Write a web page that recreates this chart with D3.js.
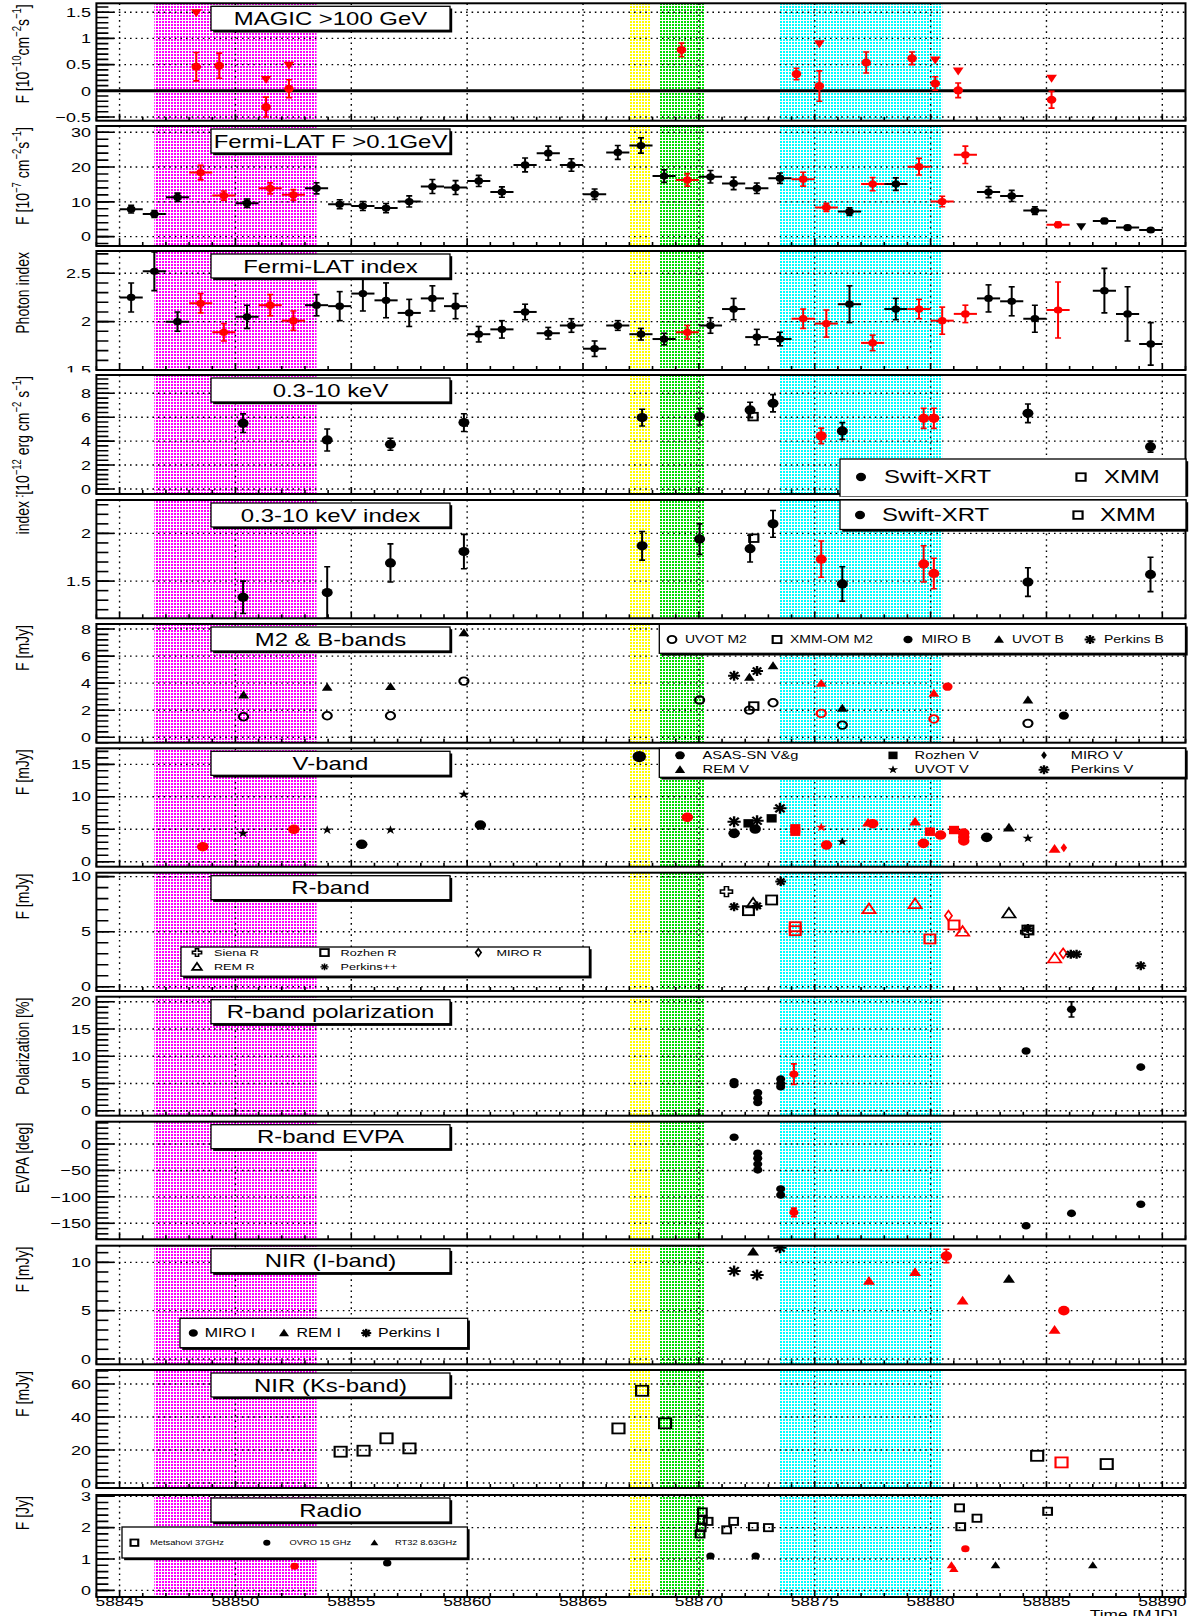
<!DOCTYPE html>
<html>
<head>
<meta charset="utf-8">
<script src="https://cdn.jsdelivr.net/npm/d3@7"></script>
<style>
  body { margin: 0; background: #fff; }
  svg { display: block; }
  text { font-family: "Liberation Sans", Arial, sans-serif; fill: #000; }
</style>
</head>
<body>
<div id="chart"></div>
<script>
// ---------------- data (MJD, value, error, simultaneous-with-MAGIC flag) ----------------
const bands = [[58846.5, 58853.5, "m"], [58867.0, 58867.9, "y"], [58868.3, 58870.25, "g"], [58873.5, 58880.5, "c"]];
const timeTicks = [58845, 58850, 58855, 58860, 58865, 58870, 58875, 58880, 58885, 58890];

const magicFlux = [
  [58848.31, 0.46, 0.27], [58849.30, 0.48, 0.24], [58851.32, -0.31, 0.19], [58852.31, 0.04, 0.17],
  [58869.25, 0.78, 0.13], [58874.21, 0.32, 0.11], [58875.20, 0.09, 0.29], [58877.22, 0.54, 0.20],
  [58879.20, 0.62, 0.12], [58880.20, 0.14, 0.13], [58881.19, 0.01, 0.14], [58885.22, -0.17, 0.16]
];
const magicUL = [[58848.31, 1.49], [58851.32, 0.22], [58852.31, 0.49], [58875.20, 0.90],
  [58880.20, 0.59], [58881.19, 0.38], [58885.22, 0.24]];

const fermiFlux = [
  [58845.5, 7.9, 1.1, 0], [58846.5, 6.5, 1.0, 0], [58847.5, 11.3, 1.2, 0], [58848.5, 18.4, 2.1, 1],
  [58849.5, 11.8, 1.3, 1], [58850.5, 9.6, 1.2, 0], [58851.5, 13.9, 1.6, 1], [58852.5, 12.0, 1.5, 1],
  [58853.5, 13.9, 1.6, 0], [58854.5, 9.3, 1.3, 0], [58855.5, 8.8, 1.3, 0], [58856.5, 8.2, 1.3, 0],
  [58857.5, 10.1, 1.6, 0], [58858.5, 14.4, 2.0, 0], [58859.5, 14.1, 2.0, 0], [58860.5, 16.0, 1.6, 0],
  [58861.5, 12.8, 1.5, 0], [58862.5, 20.6, 2.0, 0], [58863.5, 24.0, 2.0, 0], [58864.5, 20.6, 1.8, 0],
  [58865.5, 12.2, 1.5, 0], [58866.5, 24.2, 2.0, 0], [58867.5, 26.2, 2.2, 0], [58868.5, 17.4, 1.8, 0],
  [58869.5, 16.3, 1.8, 1], [58870.5, 17.2, 1.8, 0], [58871.5, 15.3, 1.8, 0], [58872.5, 13.9, 1.5, 0],
  [58873.5, 16.8, 1.5, 0], [58874.5, 16.5, 2.0, 1], [58875.5, 8.4, 1.2, 1], [58876.5, 7.2, 1.1, 0],
  [58877.5, 15.1, 1.9, 1], [58878.5, 15.1, 1.8, 0], [58879.5, 20.1, 2.4, 1], [58880.5, 10.1, 1.5, 1],
  [58881.5, 23.5, 2.5, 1], [58882.5, 12.8, 1.6, 0], [58883.5, 11.7, 1.6, 0], [58884.5, 7.5, 1.1, 0],
  [58885.5, 3.4, 0.8, 1], [58887.5, 4.5, 0.7, 0], [58888.5, 2.6, 0.6, 0], [58889.5, 1.9, 0.4, 0]
];
const fermiUL = [[58886.5, 2.9]];

const fermiIndex = [
  [58845.5, 2.25, 0.15, 0], [58846.5, 2.52, 0.20, 0], [58847.5, 2.00, 0.10, 0], [58848.5, 2.19, 0.10, 1],
  [58849.5, 1.89, 0.09, 1], [58850.5, 2.05, 0.12, 0], [58851.5, 2.17, 0.11, 1], [58852.5, 2.01, 0.10, 1],
  [58853.5, 2.17, 0.11, 0], [58854.5, 2.16, 0.15, 0], [58855.5, 2.29, 0.18, 0], [58856.5, 2.22, 0.18, 0],
  [58857.5, 2.09, 0.14, 0], [58858.5, 2.24, 0.13, 0], [58859.5, 2.16, 0.13, 0], [58860.5, 1.87, 0.08, 0],
  [58861.5, 1.92, 0.09, 0], [58862.5, 2.10, 0.08, 0], [58863.5, 1.88, 0.06, 0], [58864.5, 1.96, 0.07, 0],
  [58865.5, 1.72, 0.08, 0], [58866.5, 1.96, 0.05, 0], [58867.5, 1.87, 0.06, 0], [58868.5, 1.82, 0.06, 0],
  [58869.5, 1.89, 0.07, 1], [58870.5, 1.96, 0.08, 0], [58871.5, 2.13, 0.11, 0], [58872.5, 1.84, 0.08, 0],
  [58873.5, 1.82, 0.07, 0], [58874.5, 2.03, 0.10, 1], [58875.5, 1.98, 0.14, 1], [58876.5, 2.18, 0.19, 0],
  [58877.5, 1.78, 0.08, 1], [58878.5, 2.13, 0.11, 0], [58879.5, 2.13, 0.10, 1], [58880.5, 2.01, 0.14, 1],
  [58881.5, 2.08, 0.09, 1], [58882.5, 2.24, 0.14, 0], [58883.5, 2.21, 0.15, 0], [58884.5, 2.03, 0.14, 0],
  [58885.5, 2.12, 0.29, 1], [58887.5, 2.32, 0.23, 0], [58888.5, 2.08, 0.28, 0], [58889.5, 1.77, 0.22, 0]
];

const xrtFlux = [
  [58850.33, 5.50, 0.78, 0], [58853.96, 4.10, 0.92, 0], [58856.69, 3.74, 0.50, 0], [58859.86, 5.55, 0.74, 0],
  [58867.55, 5.97, 0.70, 0], [58870.03, 6.05, 0.70, 0], [58872.21, 6.61, 0.64, 0], [58873.20, 7.17, 0.72, 0],
  [58875.28, 4.44, 0.65, 1], [58876.19, 4.85, 0.70, 0], [58879.70, 5.91, 0.84, 1], [58880.14, 5.91, 0.84, 1],
  [58884.20, 6.33, 0.78, 0], [58889.49, 3.54, 0.46, 0]
];
const xmmFlux = [[58872.34, 6.05]];
const xrtIndex = [
  [58850.33, 1.33, 0.17, 0], [58853.96, 1.38, 0.27, 0], [58856.69, 1.69, 0.20, 0], [58859.86, 1.81, 0.18, 0],
  [58867.55, 1.87, 0.15, 0], [58870.03, 1.94, 0.16, 0], [58872.21, 1.84, 0.14, 0], [58873.20, 2.10, 0.14, 0],
  [58875.28, 1.73, 0.19, 1], [58876.19, 1.47, 0.18, 0], [58879.70, 1.68, 0.19, 1], [58880.14, 1.58, 0.16, 1],
  [58884.20, 1.49, 0.15, 0], [58889.49, 1.57, 0.18, 0]
];
const xmmIndex = [[58872.37, 1.95]];

const uvotM2 = [[58850.35, 1.52, 0], [58853.96, 1.59, 0], [58856.69, 1.59, 0], [58859.86, 4.15, 0],
  [58870.03, 2.75, 0], [58872.18, 2.01, 0], [58873.20, 2.55, 0], [58875.28, 1.77, 1], [58876.19, 0.90, 0],
  [58880.14, 1.35, 1], [58884.20, 1.03, 0]];
const xmmOmM2 = [[58872.37, 2.31, 0]];
const miroB = [[58880.73, 3.74, 1], [58885.75, 1.60, 0]];
const uvotB = [[58850.35, 3.12, 0], [58853.96, 3.69, 0], [58856.69, 3.74, 0], [58859.86, 7.72, 0],
  [58872.18, 4.43, 0], [58873.20, 5.28, 0], [58875.28, 3.98, 1], [58876.19, 2.14, 0], [58880.14, 3.25, 1],
  [58884.20, 2.75, 0]];
const perkinsB = [[58871.52, 4.55, 0], [58872.51, 4.89, 0]];

const asasV = [[58848.59, 2.31, 1], [58852.52, 4.99, 1], [58855.45, 2.68, 0], [58860.57, 5.65, 0],
  [58867.43, 16.2, 0], [58869.50, 6.84, 1], [58871.52, 4.37, 0], [58872.43, 5.04, 0], [58875.51, 2.57, 1],
  [58877.50, 5.85, 1], [58879.69, 2.83, 1], [58880.43, 4.11, 1], [58881.43, 4.40, 1], [58881.43, 3.80, 1],
  [58881.43, 3.20, 1], [58882.42, 3.75, 0]];
const rozhenV = [[58872.14, 5.91, 0], [58873.14, 6.68, 0], [58874.16, 4.62, 1], [58874.16, 5.14, 1],
  [58879.97, 4.62, 1], [58881.01, 4.88, 1]];
const miroV = [[58885.75, 2.16, 1]];
const remV = [[58877.30, 6.00, 1], [58879.33, 6.16, 1], [58883.38, 5.24, 0], [58885.35, 1.95, 1]];
const uvotV = [[58850.33, 4.37, 0], [58853.96, 4.88, 0], [58856.69, 4.88, 0], [58859.86, 10.38, 0],
  [58875.28, 5.30, 1], [58876.19, 3.08, 0], [58884.20, 3.60, 0]];
const perkinsV = [[58871.52, 6.16, 0], [58872.51, 6.31, 0], [58873.50, 8.22, 0]];

const sienaR = [[58871.19, 8.64, 0], [58884.15, 4.95, 0]];
const rozhenR = [[58872.14, 6.91, 0], [58873.14, 7.88, 0], [58874.16, 5.45, 1], [58874.16, 5.09, 1],
  [58879.97, 4.34, 1], [58881.01, 5.61, 1], [58884.20, 5.15, 0]];
const miroR = [[58880.77, 6.45, 1], [58885.72, 3.03, 1]];
const remR = [[58872.34, 7.58, 0], [58877.34, 7.06, 1], [58879.33, 7.52, 1], [58881.38, 5.00, 1],
  [58883.38, 6.67, 0], [58885.35, 2.58, 1]];
const perkinsR = [[58871.52, 7.27, 0], [58872.51, 7.34, 0], [58873.53, 9.55, 0], [58884.20, 5.30, 0],
  [58886.05, 2.95, 0], [58886.30, 2.95, 0], [58889.07, 1.91, 0]];

const polR = [[58871.52, 5.3, 0, 0], [58871.52, 4.8, 0, 0], [58872.54, 3.3, 0, 0], [58872.54, 2.3, 0, 0],
  [58872.54, 1.5, 0, 0], [58873.53, 5.8, 0, 0], [58873.53, 5.0, 0, 0], [58873.53, 4.4, 0, 0],
  [58874.10, 6.7, 1.9, 1], [58884.12, 10.95, 0, 0], [58886.08, 18.6, 1.4, 0], [58889.07, 8.0, 0, 0]];
const evpaR = [[58871.52, 12.7, 0, 0], [58872.54, -17.6, 0, 0], [58872.54, -27, 0, 0], [58872.54, -38, 0, 0],
  [58872.54, -49, 0, 0], [58873.53, -85, 0, 0], [58873.53, -96.6, 0, 0], [58874.10, -129.4, 8, 1],
  [58884.12, -154.7, 0, 0], [58886.08, -131.3, 0, 0], [58889.07, -114, 0, 0]];

const miroI = [[58880.68, 10.65, 0.7, 1], [58885.75, 5.0, 0, 1]];
const remI = [[58872.34, 11.1, 0], [58877.34, 8.07, 1], [58879.33, 8.97, 1], [58881.38, 6.03, 1],
  [58883.38, 8.27, 0], [58885.35, 3.0, 1]];
const perkinsI = [[58871.52, 9.1, 0], [58872.51, 8.69, 0], [58873.50, 11.5, 0]];

const ksBand = [[58854.54, 19.0, 0], [58855.53, 19.6, 0], [58856.52, 27.1, 0], [58857.51, 21.0, 0],
  [58866.53, 33.1, 0], [58867.55, 55.9, 0], [58868.54, 36.2, 0], [58884.60, 16.5, 0],
  [58885.65, 12.5, 1], [58887.60, 11.5, 0]];

const metsahovi = [[58870.15, 2.50, 0], [58870.15, 2.25, 0], [58870.10, 2.00, 0], [58870.05, 1.80, 0],
  [58870.40, 2.20, 0], [58871.20, 1.93, 0], [58871.50, 2.20, 0], [58872.35, 2.03, 0], [58873.00, 2.00, 0],
  [58881.25, 2.63, 0], [58881.30, 2.03, 0], [58882.00, 2.30, 0], [58885.05, 2.52, 0]];
const ovro = [[58852.55, 0.77, 1], [58856.55, 0.87, 0], [58870.50, 1.10, 0], [58872.45, 1.10, 0], [58881.50, 1.33, 1]];
const rt32 = [[58880.90, 0.80, 1], [58881.00, 0.68, 1], [58882.80, 0.80, 0], [58887.00, 0.80, 0]];

// ---------------- layout ----------------
const W = 1200, H = 1616, X0 = 96.4, X1 = 1185.5, SX = 1.33;
const panels = [
  { T: 3.3, B: 120.7, dom: [-0.57, 1.67], step: 0.5, title: "MAGIC >100 GeV",
    yt: [["F [10", 0], ["−10", 1], ["cm", 0], ["−2", 1], ["s", 0], ["−1", 1], ["]", 0]] },
  { T: 126, B: 246, dom: [-2.7, 31.8], step: 10, title: "Fermi-LAT F >0.1GeV",
    yt: [["F [10", 0], ["−7", 1], [" cm", 0], ["−2", 1], ["s", 0], ["−1", 1], ["]", 0]] },
  { T: 251, B: 370, dom: [1.5, 2.73], step: 0.5, title: "Fermi-LAT index", yt: [["Photon index", 0]] },
  { T: 375, B: 494, dom: [-0.42, 9.53], step: 2, title: "0.3-10 keV",
    yt: [["F[10", 0], ["−12", 1], [" erg cm", 0], ["−2", 1], [" s", 0], ["−1", 1], ["]", 0]] },
  { T: 500, B: 618.3, dom: [1.11, 2.35], step: 0.5, title: "0.3-10 keV index", yt: [["index", 0]] },
  { T: 624, B: 742.7, dom: [-0.4, 8.37], step: 2, title: "M2 & B-bands", yt: [["F [mJy]", 0]] },
  { T: 748.3, B: 866.7, dom: [-0.77, 17.47], step: 5, title: "V-band", yt: [["F [mJy]", 0]] },
  { T: 872.7, B: 991, dom: [-0.39, 10.36], step: 5, title: "R-band", yt: [["F [mJy]", 0]] },
  { T: 996.7, B: 1115.7, dom: [-0.92, 20.92], step: 5, title: "R-band polarization", yt: [["Polarization [%]", 0]] },
  { T: 1121.7, B: 1239.3, dom: [-180.3, 42.2], step: 50, title: "R-band EVPA", yt: [["EVPA [deg]", 0]] },
  { T: 1245.7, B: 1364.3, dom: [-0.55, 11.72], step: 5, title: "NIR (I-band)", yt: [["F [mJy]", 0]] },
  { T: 1370, B: 1488, dom: [-3, 68.5], step: 20, title: "NIR (Ks-band)", yt: [["F [mJy]", 0]] },
  { T: 1495, B: 1597, dom: [-0.21, 3.04], step: 1, title: "Radio", yt: [["F [Jy]", 0]] }
];
const bandCol = { m: "#ff00ff", y: "#ffff00", g: "#00dd00", c: "#00ffff" };
const RED = "#ff0000", BLK = "#000000";
const col = s => (s ? RED : BLK);

const x = d3.scaleLinear().domain([58844, 58891]).range([X0, X1]);
const svg = d3.select("#chart").append("svg").attr("width", W).attr("height", H);
const defs = svg.append("defs");
Object.entries(bandCol).forEach(([k, c]) => {
  const p = defs.append("pattern").attr("id", "pat" + k).attr("patternUnits", "userSpaceOnUse")
    .attr("width", 3).attr("height", 3);
  p.append("rect").attr("width", 3).attr("height", 3).attr("fill", "#fff");
  p.append("rect").attr("width", 2).attr("height", 2).attr("fill", c);
});
const fmt = d3.format("~g");

// stretched text (the reference is widened horizontally)
function txt(g, px, py, size, anchor, rot) {
  return g.append("text")
    .attr("transform", `translate(${px},${py}) scale(${SX},1)` + (rot ? ` rotate(${rot})` : ""))
    .attr("font-size", size).attr("text-anchor", anchor || "start");
}
function rich(t, parts, size) {
  let up = false;
  parts.forEach(([s, sup]) => {
    const sp = t.append("tspan").text(s);
    if (sup) { sp.attr("font-size", size * 0.68); if (!up) sp.attr("dy", -0.42 * size); up = true; }
    else if (up) { sp.attr("dy", 0.42 * size); up = false; }
  });
}

function mark(g, t, cx, cy, c, s) {
  const m = g.append("g").attr("transform", `translate(${cx},${cy}) scale(1.2,1)`);
  const st = (e, w) => e.attr("fill", "none").attr("stroke", c).attr("stroke-width", w || 1.6);
  const tri = `M0,${-s}L${s},${s * 0.75}L${-s},${s * 0.75}Z`;
  const dia = `M0,${-s}L${s * 0.6},0L0,${s}L${-s * 0.6},0Z`;
  const w = s / 3;
  const cross = `M${-w},${-s}H${w}V${-w}H${s}V${w}H${w}V${s}H${-w}V${w}H${-s}V${-w}H${-w}Z`;
  if (t === "c") m.append("circle").attr("r", s).attr("fill", c);
  else if (t === "oc") st(m.append("circle").attr("r", s), 1.8);
  else if (t === "sq") m.append("rect").attr("x", -s).attr("y", -s).attr("width", 2 * s).attr("height", 2 * s).attr("fill", c);
  else if (t === "osq") st(m.append("rect").attr("x", -s).attr("y", -s).attr("width", 2 * s).attr("height", 2 * s), 1.8);
  else if (t === "tri") m.append("path").attr("d", tri).attr("fill", c);
  else if (t === "otri") st(m.append("path").attr("d", tri), 1.6);
  else if (t === "dtri") m.append("path").attr("d", `M0,${s}L${s},${-s * 0.75}L${-s},${-s * 0.75}Z`).attr("fill", c);
  else if (t === "star") m.append("path").attr("d", d3.symbol(d3.symbolStar, s * s / 0.89)()).attr("fill", c);
  else if (t === "dia") m.append("path").attr("d", dia).attr("fill", c);
  else if (t === "odia") st(m.append("path").attr("d", dia), 1.5);
  else if (t === "ocr") st(m.append("path").attr("d", cross), 1.4);
  else if (t === "ast") {
    [0, 45, 90, 135].forEach(a => {
      const r = a * Math.PI / 180;
      m.append("line").attr("x1", -s * Math.cos(r)).attr("y1", -s * Math.sin(r))
        .attr("x2", s * Math.cos(r)).attr("y2", s * Math.sin(r))
        .attr("stroke", c).attr("stroke-width", s < 4 ? 1.3 : 2);
    });
  }
}
function ebar(g, px, y0, y1, c) {
  g.append("line").attr("x1", px).attr("x2", px).attr("y1", y0).attr("y2", y1).attr("stroke", c).attr("stroke-width", 2);
  [y0, y1].forEach(v => g.append("line").attr("x1", px - 3).attr("x2", px + 3).attr("y1", v).attr("y2", v)
    .attr("stroke", c).attr("stroke-width", 1.6));
}
function shadowBox(g, x0, y0, x1, y1) {
  g.append("rect").attr("x", x0 + 2.2).attr("y", y0 + 2.2).attr("width", x1 - x0).attr("height", y1 - y0).attr("fill", "#000");
  g.append("rect").attr("x", x0).attr("y", y0).attr("width", x1 - x0).attr("height", y1 - y0)
    .attr("fill", "#fff").attr("stroke", "#000").attr("stroke-width", 1.3);
}
function legend(g, box, items, size) {
  shadowBox(g, box[0], box[1], box[2], box[3]);
  items.forEach(it => {
    mark(g, it[0], it[1], it[3] - size * 0.33, BLK, it[4]);
    txt(g, it[2], it[3], size).text(it[5]);
  });
}

function drawPanel(k) {
  const c = panels[k];
  const y = d3.scaleLinear().domain(c.dom).range([c.B, c.T]);
  defs.append("clipPath").attr("id", "pad" + k).append("rect")
    .attr("x", 0).attr("y", c.T - 2.7).attr("width", W).attr("height", c.B - c.T + 5.4);
  defs.append("clipPath").attr("id", "fr" + k).append("rect")
    .attr("x", X0).attr("y", c.T).attr("width", X1 - X0).attr("height", c.B - c.T);
  const pad = svg.append("g").attr("clip-path", `url(#pad${k})`);
  pad.append("rect").attr("x", 0).attr("y", c.T - 2.7).attr("width", W).attr("height", c.B - c.T + 5.4).attr("fill", "#fff");
  const fr = pad.append("g").attr("clip-path", `url(#fr${k})`);
  bands.forEach(b => fr.append("rect").attr("x", x(b[0])).attr("width", x(b[1]) - x(b[0]))
    .attr("y", c.T).attr("height", c.B - c.T).attr("fill", `url(#pat${b[2]})`));

  const major = d3.range(Math.ceil(c.dom[0] / c.step - 1e-9) * c.step, c.dom[1] + 1e-9, c.step).map(v => +v.toFixed(6));
  const ms = c.step / 5;
  const minor = d3.range(Math.ceil(c.dom[0] / ms - 1e-9) * ms, c.dom[1] + 1e-9, ms);
  const grid = fr.append("g").attr("stroke", "#000").attr("stroke-width", 1.4).attr("stroke-dasharray", "1.6,4");
  timeTicks.forEach(t => grid.append("line").attr("x1", x(t)).attr("x2", x(t)).attr("y1", c.T).attr("y2", c.B));
  major.forEach(v => grid.append("line").attr("x1", X0).attr("x2", X1).attr("y1", y(v)).attr("y2", y(v)));

  const data = pad.append("g").attr("clip-path", `url(#fr${k})`);
  const top = pad.append("g");
  top.append("rect").attr("x", X0).attr("y", c.T).attr("width", X1 - X0).attr("height", c.B - c.T)
    .attr("fill", "none").attr("stroke", "#000").attr("stroke-width", 2);
  const tk = top.append("g").attr("stroke", "#000").attr("stroke-width", 1.6);
  minor.forEach(v => tk.append("line").attr("x1", X0).attr("x2", X0 + 12).attr("y1", y(v)).attr("y2", y(v)));
  major.forEach(v => tk.append("line").attr("x1", X0).attr("x2", X0 + 18).attr("y1", y(v)).attr("y2", y(v)));
  d3.range(58844, 58892).forEach(t => {
    const len = t % 5 === 0 ? 7 : 4;
    tk.append("line").attr("x1", x(t)).attr("x2", x(t)).attr("y1", c.B).attr("y2", c.B - len);
  });
  major.forEach(v => txt(top, 91, y(v) + 4.7, 13.5, "end").text(fmt(v)));
  rich(txt(top, 28.5, c.T + 1, 14, "end", -90), c.yt, 14);
  shadowBox(top, 211, c.T + 3, 450, c.T + 27);
  txt(top, 330.5, c.T + 21.5, 18, "middle").text(c.title);
  return { data, top, y };
}

// ---------- 1 MAGIC ----------
{
  const p = drawPanel(0);
  p.data.append("line").attr("x1", X0).attr("x2", X1).attr("y1", p.y(0)).attr("y2", p.y(0)).attr("stroke", "#000").attr("stroke-width", 3);
  magicFlux.forEach(d => { ebar(p.data, x(d[0]), p.y(d[1] - d[2]), p.y(d[1] + d[2]), RED); mark(p.data, "c", x(d[0]), p.y(d[1]), RED, 4); });
  magicUL.forEach(d => mark(p.data, "dtri", x(d[0]), p.y(d[1]), RED, 4.5));
}
// ---------- 2 Fermi flux ----------
{
  const p = drawPanel(1);
  fermiFlux.forEach(d => {
    const c = col(d[3]);
    p.data.append("line").attr("x1", x(d[0] - 0.5)).attr("x2", x(d[0] + 0.5)).attr("y1", p.y(d[1])).attr("y2", p.y(d[1])).attr("stroke", c).attr("stroke-width", 2);
    ebar(p.data, x(d[0]), p.y(d[1] - d[2]), p.y(d[1] + d[2]), c);
    mark(p.data, "c", x(d[0]), p.y(d[1]), c, 3.6);
  });
  fermiUL.forEach(d => mark(p.data, "dtri", x(d[0]), p.y(d[1]), BLK, 4.2));
}
// ---------- 3 Fermi index ----------
{
  const p = drawPanel(2);
  fermiIndex.forEach(d => {
    const c = col(d[3]);
    p.data.append("line").attr("x1", x(d[0] - 0.5)).attr("x2", x(d[0] + 0.5)).attr("y1", p.y(d[1])).attr("y2", p.y(d[1])).attr("stroke", c).attr("stroke-width", 2);
    ebar(p.data, x(d[0]), p.y(d[1] - d[2]), p.y(d[1] + d[2]), c);
    mark(p.data, "c", x(d[0]), p.y(d[1]), c, 3.6);
  });
}
// ---------- 4 X-ray flux ----------
{
  const p = drawPanel(3);
  xrtFlux.forEach(d => { const c = col(d[3]); ebar(p.data, x(d[0]), p.y(d[1] - d[2]), p.y(d[1] + d[2]), c); mark(p.data, "c", x(d[0]), p.y(d[1]), c, 4.6); });
  xmmFlux.forEach(d => mark(p.data, "osq", x(d[0]), p.y(d[1]), BLK, 3.8));
  legend(p.top, [840, 459, 1186, 497], [["c", 861, 884, 483, 4.2, "Swift-XRT"], ["osq", 1081, 1104, 483, 3.8, "XMM"]], 18);
}
// ---------- 5 X-ray index ----------
{
  const p = drawPanel(4);
  xrtIndex.forEach(d => { const c = col(d[3]); ebar(p.data, x(d[0]), p.y(d[1] - d[2]), p.y(d[1] + d[2]), c); mark(p.data, "c", x(d[0]), p.y(d[1]), c, 4.6); });
  xmmIndex.forEach(d => mark(p.data, "osq", x(d[0]), p.y(d[1]), BLK, 3.8));
  legend(p.top, [840, 500, 1186, 529.5], [["c", 860, 882, 521, 4.2, "Swift-XRT"], ["osq", 1078, 1100, 521, 3.8, "XMM"]], 18);
}
// ---------- 6 M2 & B ----------
{
  const p = drawPanel(5);
  uvotM2.forEach(d => mark(p.data, "oc", x(d[0]), p.y(d[1]), col(d[2]), 3.8));
  xmmOmM2.forEach(d => mark(p.data, "osq", x(d[0]), p.y(d[1]), col(d[2]), 3.8));
  miroB.forEach(d => mark(p.data, "c", x(d[0]), p.y(d[1]), col(d[2]), 4.2));
  uvotB.forEach(d => mark(p.data, "tri", x(d[0]), p.y(d[1]), col(d[2]), 4.5));
  perkinsB.forEach(d => mark(p.data, "ast", x(d[0]), p.y(d[1]), col(d[2]), 5));
  legend(p.top, [659.3, 624.3, 1185.5, 653.3], [
    ["oc", 672, 685, 643, 3.6, "UVOT M2"], ["osq", 777, 790, 643, 3.6, "XMM-OM M2"],
    ["c", 908, 921.5, 643, 3.8, "MIRO B"], ["tri", 999, 1012, 643, 4.2, "UVOT B"],
    ["ast", 1090, 1104, 643, 4.5, "Perkins B"]], 10.5);
}
// ---------- 7 V-band ----------
{
  const p = drawPanel(6);
  asasV.forEach(d => mark(p.data, "c", x(d[0]), p.y(d[1]), col(d[2]), d[1] > 15 ? 5.6 : 4.8));
  rozhenV.forEach(d => mark(p.data, "sq", x(d[0]), p.y(d[1]), col(d[2]), 4.2));
  miroV.forEach(d => mark(p.data, "dia", x(d[0]), p.y(d[1]), col(d[2]), 4.5));
  remV.forEach(d => mark(p.data, "tri", x(d[0]), p.y(d[1]), col(d[2]), 5));
  uvotV.forEach(d => mark(p.data, "star", x(d[0]), p.y(d[1]), col(d[2]), 4.8));
  perkinsV.forEach(d => mark(p.data, "ast", x(d[0]), p.y(d[1]), col(d[2]), 5.5));
  legend(p.top, [659.3, 748.3, 1185.5, 777.3], [
    ["c", 680, 702.6, 759, 4, "ASAS-SN V&g"], ["sq", 893, 914.6, 759, 3.8, "Rozhen V"], ["dia", 1044, 1070.7, 759, 4, "MIRO V"],
    ["tri", 680, 702.6, 773.3, 4.3, "REM V"], ["star", 893, 914.6, 773.3, 4.5, "UVOT V"], ["ast", 1044, 1070.7, 773.3, 4.5, "Perkins V"]], 11);
}
// ---------- 8 R-band ----------
{
  const p = drawPanel(7);
  sienaR.forEach(d => mark(p.data, "ocr", x(d[0]), p.y(d[1]), col(d[2]), 5));
  rozhenR.forEach(d => mark(p.data, "osq", x(d[0]), p.y(d[1]), col(d[2]), 4.5));
  miroR.forEach(d => mark(p.data, "odia", x(d[0]), p.y(d[1]), col(d[2]), 5));
  remR.forEach(d => mark(p.data, "otri", x(d[0]), p.y(d[1]), col(d[2]), 5.5));
  perkinsR.forEach(d => mark(p.data, "ast", x(d[0]), p.y(d[1]), col(d[2]), 4.5));
  legend(p.top, [181, 947, 589.4, 976.2], [
    ["ocr", 197, 214, 955.7, 3.8, "Siena R"], ["osq", 324.5, 340.6, 955.7, 3.5, "Rozhen R"], ["odia", 478.4, 496.4, 955.7, 3.8, "MIRO R"],
    ["otri", 197, 214, 970, 4, "REM R"], ["ast", 324.5, 340.6, 970, 3.4, "Perkins++"]], 9.5);
}
// ---------- 9 Polarization ----------
{
  const p = drawPanel(8);
  polR.forEach(d => { const c = col(d[3]); if (d[2]) ebar(p.data, x(d[0]), p.y(d[1] - d[2]), p.y(d[1] + d[2]), c); mark(p.data, "c", x(d[0]), p.y(d[1]), c, 3.8); });
}
// ---------- 10 EVPA ----------
{
  const p = drawPanel(9);
  evpaR.forEach(d => { const c = col(d[3]); if (d[2]) ebar(p.data, x(d[0]), p.y(d[1] - d[2]), p.y(d[1] + d[2]), c); mark(p.data, "c", x(d[0]), p.y(d[1]), c, 3.8); });
}
// ---------- 11 I-band ----------
{
  const p = drawPanel(10);
  miroI.forEach(d => { const c = col(d[3]); if (d[2]) ebar(p.data, x(d[0]), p.y(d[1] - d[2]), p.y(d[1] + d[2]), c); mark(p.data, "c", x(d[0]), p.y(d[1]), c, 4.8); });
  remI.forEach(d => mark(p.data, "tri", x(d[0]), p.y(d[1]), col(d[2]), 5));
  perkinsI.forEach(d => mark(p.data, "ast", x(d[0]), p.y(d[1]), col(d[2]), 5.5));
  legend(p.top, [180, 1318.3, 467.7, 1347.7], [
    ["c", 193.3, 204.7, 1337, 3.8, "MIRO I"], ["tri", 284, 296.6, 1337, 4.2, "REM I"], ["ast", 366.2, 378.1, 1337, 4.2, "Perkins I"]], 12);
}
// ---------- 12 Ks-band ----------
{
  const p = drawPanel(11);
  ksBand.forEach(d => mark(p.data, "osq", x(d[0]), p.y(d[1]), col(d[2]), 5));
}
// ---------- 13 Radio ----------
{
  const p = drawPanel(12);
  metsahovi.forEach(d => mark(p.data, "osq", x(d[0]), p.y(d[1]), col(d[2]), 3.6));
  ovro.forEach(d => mark(p.data, "c", x(d[0]), p.y(d[1]), col(d[2]), 3.5));
  rt32.forEach(d => mark(p.data, "tri", x(d[0]), p.y(d[1]), col(d[2]), 4));
  legend(p.top, [122, 1527, 467.4, 1558], [
    ["osq", 134.4, 150, 1545, 3.2, "Metsahovi 37GHz"], ["c", 266.8, 289.6, 1545, 3, "OVRO 15 GHz"], ["tri", 374.4, 395, 1545, 3.3, "RT32 8.63GHz"]], 7);
}
// time axis labels
timeTicks.forEach(t => txt(svg, x(t), 1606, 13, "middle").text(t));
txt(svg, X1 - 8, 1619, 13, "end").text("Time [MJD]");
</script>
</body>
</html>
